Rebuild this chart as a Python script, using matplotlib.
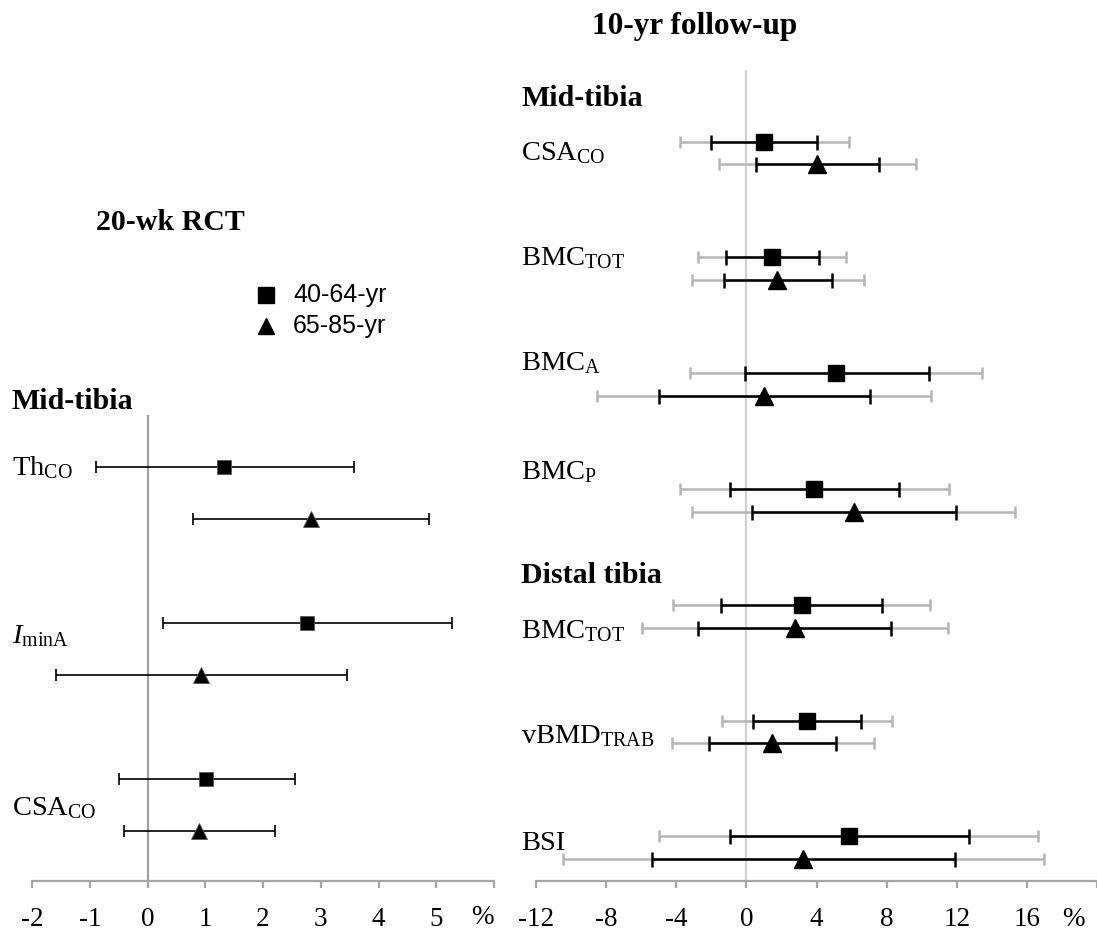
import matplotlib
matplotlib.use("Agg")
import matplotlib.pyplot as plt
from matplotlib.lines import Line2D
import numpy as np

# ---------------- data ----------------
groups = ["40-64-yr", "65-85-yr"]

# 20-wk RCT, mid-tibia: mean % difference with 95% CI
rct_labels = [r"Th$_{\mathrm{CO}}$", r"$I_{\mathrm{minA}}$", r"CSA$_{\mathrm{CO}}$"]
rct_young_mean = [1.33, 2.77, 1.02]
rct_young_lo = [-0.90, 0.27, -0.50]
rct_young_hi = [3.58, 5.28, 2.55]
rct_old_mean = [2.83, 0.92, 0.90]
rct_old_lo = [0.78, -1.59, -0.40]
rct_old_hi = [4.87, 3.45, 2.21]

# 10-yr follow-up: mean, inner (black) CI and outer (grey) CI
fu_labels = [r"CSA$_{\mathrm{CO}}$", r"BMC$_{\mathrm{TOT}}$", r"BMC$_{\mathrm{A}}$",
             r"BMC$_{\mathrm{P}}$", r"BMC$_{\mathrm{TOT}}$", r"vBMD$_{\mathrm{TRAB}}$", "BSI"]
fu_young_mean = [1.01, 1.44, 5.13, 3.86, 3.15, 3.47, 5.87]
fu_young_lo = [-2.00, -1.16, -0.06, -0.95, -1.47, 0.39, -0.95]
fu_young_hi = [4.05, 4.14, 10.39, 8.69, 7.76, 6.56, 12.68]
fu_young_lo2 = [-3.80, -2.76, -3.19, -3.80, -4.16, -1.40, -5.00]
fu_young_hi2 = [5.84, 5.69, 13.46, 11.56, 10.50, 8.32, 16.65]
fu_old_mean = [4.05, 1.77, 1.01, 6.12, 2.76, 1.44, 3.23]
fu_old_lo = [0.56, -1.29, -4.98, 0.32, -2.74, -2.13, -5.39]
fu_old_hi = [7.59, 4.87, 7.03, 11.97, 8.26, 5.11, 11.88]
fu_old_lo2 = [-1.55, -3.11, -8.54, -3.08, -5.97, -4.25, -10.46]
fu_old_hi2 = [9.66, 6.69, 10.55, 15.35, 11.52, 7.29, 16.95]

rct_ticks = [-2, -1, 0, 1, 2, 3, 4, 5, 6]
rct_ticklabels = ["-2", "-1", "0", "1", "2", "3", "4", "5", ""]
fu_ticks = [-12, -8, -4, 0, 4, 8, 12, 16, 20]
fu_ticklabels = ["-12", "-8", "-4", "0", "4", "8", "12", "16", ""]

# ---------------- style ----------------
plt.rcParams["font.family"] = ["Liberation Serif", "DejaVu Serif"]
plt.rcParams["mathtext.fontset"] = "custom"
plt.rcParams["mathtext.rm"] = "Liberation Serif"
plt.rcParams["mathtext.it"] = "Liberation Serif:italic"
plt.rcParams["mathtext.bf"] = "Liberation Serif:bold"

W, H = 1097, 931
fig = plt.figure(figsize=(W / 100, H / 100), dpi=100)


def fx(x):
    return x / W


def fy(y):
    return 1 - y / H


SPINE = "#a6a6a6"
LABEL_FS = 20.5
BOLD_FS = 21.5
TICK_FS = 19.5


def style_axis(ax, ticks, labels):
    for s in ("top", "left", "right"):
        ax.spines[s].set_visible(False)
    ax.spines["bottom"].set_color(SPINE)
    ax.spines["bottom"].set_linewidth(1.6)
    ax.set_yticks([])
    ax.set_xticks(ticks)
    ax.set_xticklabels(labels)
    ax.tick_params(axis="x", direction="out", length=5, width=1.6, color=SPINE,
                   labelsize=TICK_FS, pad=14)


# ---------------- 20-wk RCT panel ----------------
axL = fig.add_axes([fx(32), fy(881), fx(494 - 32), (881 - 415) / H])
axL.set_xlim(-2, 6)
axL.set_ylim(7.96, -1.0)
axL.axvline(0, color="#a0a0a0", lw=1.6, zorder=1)

idx = np.arange(len(rct_labels))
pos_young = idx * 3
pos_old = idx * 3 + 1
ym = np.array(rct_young_mean)
om = np.array(rct_old_mean)
axL.errorbar(ym, pos_young, xerr=[ym - np.array(rct_young_lo), np.array(rct_young_hi) - ym],
             fmt="none", ecolor="black", elinewidth=1.2, capsize=4, capthick=1.2, zorder=2)
axL.errorbar(om, pos_old, xerr=[om - np.array(rct_old_lo), np.array(rct_old_hi) - om],
             fmt="none", ecolor="black", elinewidth=1.2, capsize=4, capthick=1.2, zorder=2)
axL.plot(ym, pos_young, "s", color="black", ms=9.5, mec="#555555", mew=0.6, zorder=3)
axL.plot(om, pos_old, "^", color="black", ms=12, mec="#555555", mew=0.6, zorder=3)
style_axis(axL, rct_ticks, rct_ticklabels)

# ---------------- 10-yr follow-up panel ----------------
axR = fig.add_axes([fx(536), fy(881), fx(1097 - 536), (881 - 70) / H])
axR.set_xlim(-12, 19.86)
axR.set_ylim(6.287, -0.717)
axR.axvline(0, color="#d0d0d0", lw=1.6, zorder=1)

gidx = np.arange(len(fu_labels))
py = gidx - 0.099
po = gidx + 0.099
fym = np.array(fu_young_mean)
fom = np.array(fu_old_mean)
GREY = "#b5b5b5"
axR.errorbar(fym, py, xerr=[fym - np.array(fu_young_lo2), np.array(fu_young_hi2) - fym],
             fmt="none", ecolor=GREY, elinewidth=1.8, capsize=4, capthick=1.8, zorder=2)
axR.errorbar(fom, po, xerr=[fom - np.array(fu_old_lo2), np.array(fu_old_hi2) - fom],
             fmt="none", ecolor=GREY, elinewidth=1.8, capsize=4, capthick=1.8, zorder=2)
axR.errorbar(fym, py, xerr=[fym - np.array(fu_young_lo), np.array(fu_young_hi) - fym],
             fmt="none", ecolor="black", elinewidth=1.8, capsize=5.4, capthick=1.8, zorder=3)
axR.errorbar(fom, po, xerr=[fom - np.array(fu_old_lo), np.array(fu_old_hi) - fom],
             fmt="none", ecolor="black", elinewidth=1.8, capsize=5.4, capthick=1.8, zorder=3)
axR.plot(fym, py, "s", color="black", ms=11, zorder=4)
axR.plot(fom, po, "^", color="black", ms=12.3, zorder=4)
style_axis(axR, fu_ticks, fu_ticklabels)

# ---------------- text ----------------
fig.text(fx(170), fy(230), "20-wk RCT", fontsize=BOLD_FS, fontweight="bold",
         ha="center", va="baseline")
fig.text(fx(695), fy(34), "10-yr follow-up", fontsize=BOLD_FS + 1, fontweight="bold",
         ha="center", va="baseline")

fig.text(fx(12), fy(409), "Mid-tibia", fontsize=BOLD_FS, fontweight="bold", va="baseline")
for lab, yb in zip(rct_labels, [475, 643, 815]):
    fig.text(fx(12), fy(yb), lab, fontsize=LABEL_FS, va="baseline")

fig.text(fx(521), fy(106), "Mid-tibia", fontsize=BOLD_FS, fontweight="bold", va="baseline")
fig.text(fx(521), fy(583), "Distal tibia", fontsize=BOLD_FS, fontweight="bold", va="baseline")
for lab, yb in zip(fu_labels, [160, 265, 370, 479, 638, 743, 850]):
    fig.text(fx(521), fy(yb), lab, fontsize=LABEL_FS, va="baseline")

fig.text(fx(482), fy(918), "%", fontsize=TICK_FS, ha="center", va="center")
fig.text(fx(1073), fy(919), "%", fontsize=TICK_FS, ha="center", va="center")

# legend
for (mk, ms), name, yl in zip([("s", 11), ("^", 12)], groups, [295, 326]):
    fig.add_artist(Line2D([fx(266)], [fy(yl)], transform=fig.transFigure, marker=mk,
                          ms=ms, color="black", linestyle="none"))
    fig.text(fx(293), fy(yl), name, fontsize=18, family=["Liberation Sans", "DejaVu Sans"],
             va="center")

fig.savefig("out.png", dpi=100)
